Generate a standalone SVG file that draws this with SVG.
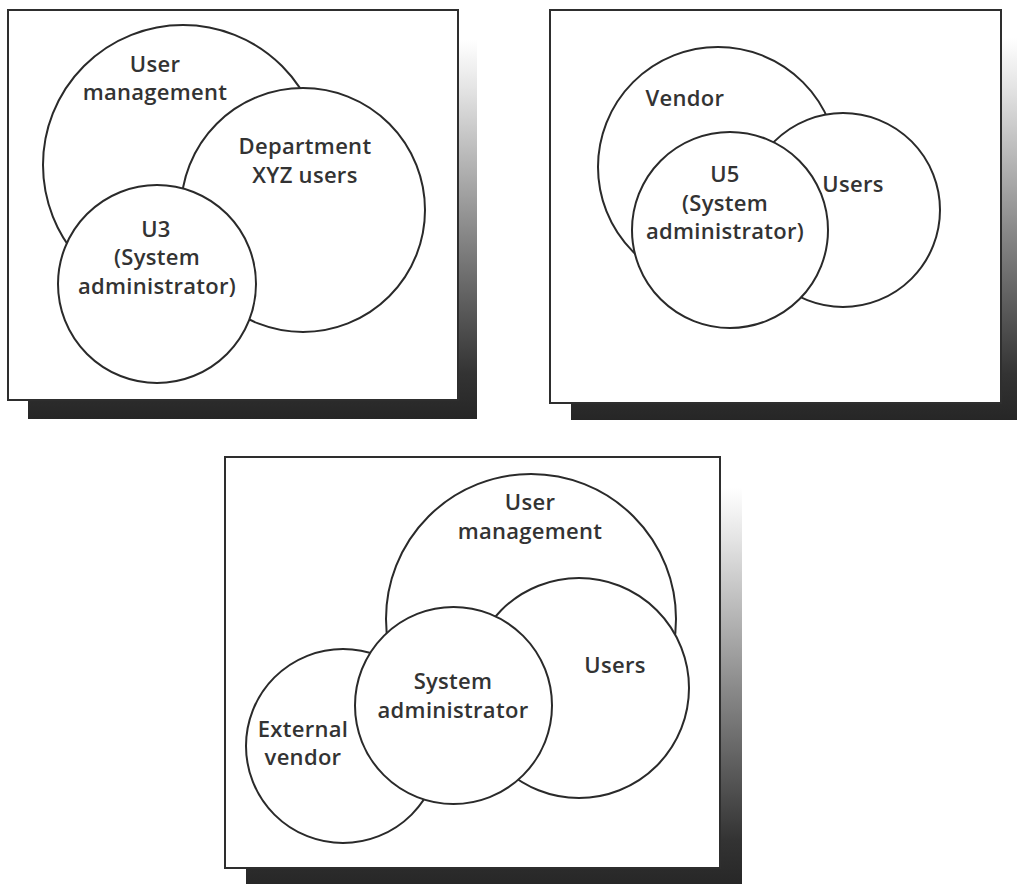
<svg xmlns="http://www.w3.org/2000/svg" width="1017" height="884" viewBox="0 0 1017 884">
  <defs>
    <!-- drop shadow fades from white at the top to near-black at the bottom -->
    <linearGradient id="shadeFade" x1="0" y1="0" x2="0" y2="1">
      <stop offset="0" stop-color="#ffffff"/>
      <stop offset="0.12" stop-color="#e6e6e6"/>
      <stop offset="0.5" stop-color="#8a8a8a"/>
      <stop offset="0.88" stop-color="#333333"/>
      <stop offset="1" stop-color="#262626"/>
    </linearGradient>
  </defs>
  <style>
    .shadow { fill: url(#shadeFade); }
    .frame { fill: #ffffff; stroke: #2e2e2e; stroke-width: 2; }
    .set { fill: #ffffff; stroke: #2a2a2a; stroke-width: 2; }
    .lbl { font-family: "Open Sans", "Liberation Sans", sans-serif; font-weight: 600; font-size: 22px; letter-spacing: 0.3px; fill: #333333; text-anchor: middle; }
  </style>
  <rect width="1017" height="884" fill="#ffffff"/>

  <!-- Panel 1: user management, department XYZ users, U3 -->
  <g id="panel1">
    <rect class="shadow" x="28" y="40" width="449" height="379"/>
    <rect class="frame" x="8" y="10" width="450" height="390"/>
    <g id="p1-user-management">
      <circle class="set" cx="183" cy="165" r="140"/>
      <text class="lbl" x="155" y="72">User</text>
      <text class="lbl" x="155" y="100">management</text>
    </g>
    <g id="p1-department-users">
      <circle class="set" cx="303" cy="210" r="122"/>
      <text class="lbl" x="305" y="154">Department</text>
      <text class="lbl" x="305" y="183">XYZ users</text>
    </g>
    <g id="p1-u3">
      <circle class="set" cx="157" cy="284" r="99"/>
      <text class="lbl" x="156" y="237">U3</text>
      <text class="lbl" x="157" y="265">(System</text>
      <text class="lbl" x="157" y="294">administrator)</text>
    </g>
  </g>

  <!-- Panel 2: vendor, users, U5 -->
  <g id="panel2">
    <rect class="shadow" x="571" y="38" width="460" height="382"/>
    <rect class="frame" x="550" y="10" width="451" height="393"/>
    <g id="p2-vendor">
      <circle class="set" cx="718" cy="167" r="120"/>
      <text class="lbl" x="685" y="106">Vendor</text>
    </g>
    <g id="p2-users">
      <circle class="set" cx="843" cy="210" r="97"/>
      <text class="lbl" x="853" y="192">Users</text>
    </g>
    <g id="p2-u5">
      <circle class="set" cx="730" cy="230" r="98"/>
      <text class="lbl" x="725" y="182">U5</text>
      <text class="lbl" x="725" y="211">(System</text>
      <text class="lbl" x="725" y="239">administrator)</text>
    </g>
  </g>

  <!-- Panel 3: user management, users, external vendor, system administrator -->
  <g id="panel3">
    <rect class="shadow" x="246" y="488" width="496" height="400"/>
    <rect class="frame" x="225" y="457" width="495" height="411"/>
    <g id="p3-user-management">
      <circle class="set" cx="531" cy="619" r="145"/>
      <text class="lbl" x="530" y="510">User</text>
      <text class="lbl" x="530" y="539">management</text>
    </g>
    <g id="p3-users">
      <circle class="set" cx="579" cy="688" r="110"/>
      <text class="lbl" x="615" y="673">Users</text>
    </g>
    <g id="p3-external-vendor">
      <circle class="set" cx="343" cy="746" r="97"/>
      <text class="lbl" x="303" y="737">External</text>
      <text class="lbl" x="303" y="765">vendor</text>
    </g>
    <g id="p3-system-administrator">
      <circle class="set" cx="453.5" cy="705.5" r="98.5"/>
      <text class="lbl" x="453" y="689">System</text>
      <text class="lbl" x="453" y="718">administrator</text>
    </g>
  </g>

  <!-- no connectors in this diagram -->
  <g id="connectors"/>
</svg>
